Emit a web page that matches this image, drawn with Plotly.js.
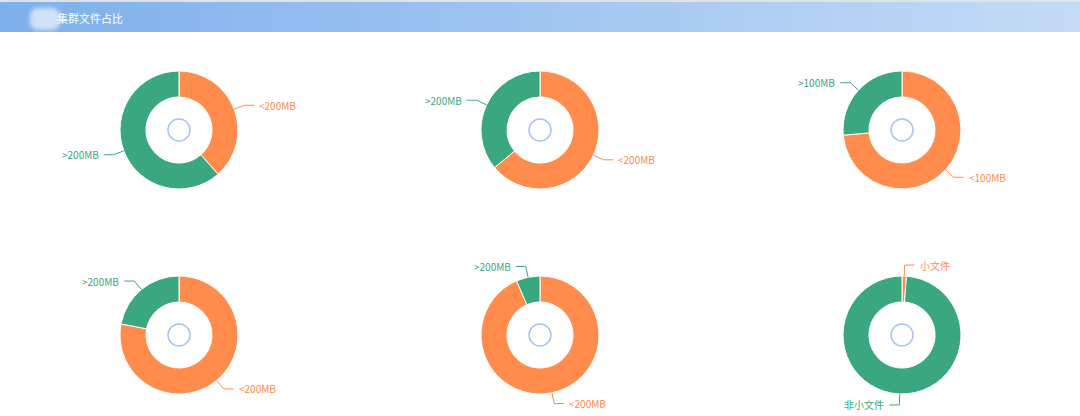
<!DOCTYPE html>
<html>
<head>
<meta charset="utf-8">
<script src="https://cdn.plot.ly/plotly-3.0.1.min.js"></script>
<style>
  body { margin: 0; background: #fff; }
  #wrap { position: relative; width: 1080px; height: 416px; overflow: hidden; }
  #head {
    position: absolute; left: 0; top: 0; width: 1080px; height: 30px;
    border-top: 2px solid #dfe3e8;
    background: linear-gradient(to right, #7db0ec 0%, #9cc3f1 45%, #c4dbf6 100%);
    z-index: 2;
    font-family: "Noto Sans CJK SC", sans-serif; font-size: 11px; color: #fff;
  }
  #head .ico { position: absolute; left: 30px; top: 6px; width: 30px; height: 22px;
    background: rgba(235,242,252,0.75); border-radius: 8px; filter: blur(2px); }
  #head .txt { position: absolute; left: 57px; top: 8px; }
  #chart { position: absolute; left: 0; top: 0; }
</style>
</head>
<body>
<div id="wrap">
  <div id="head"><div class="ico"></div><div class="txt">集群文件占比</div></div>
  <div id="chart"></div>
</div>
<script>
  var W = 1080, H = 416;

  // slice labels (orange first, then green) and values in percent
  var labels1 = ['<200MB', '>200MB'];
  var values1 = [38.5, 61.5];
  var labels2 = ['<200MB', '>200MB'];
  var values2 = [64, 36];
  var labels3 = ['<100MB', '>100MB'];
  var values3 = [73.6, 26.4];
  var labels4 = ['<200MB', '>200MB'];
  var values4 = [78, 22];
  var labels5 = ['<200MB', '>200MB'];
  var values5 = [93.5, 6.5];
  var labels6 = ['小文件', '非小文件'];
  var values6 = [1.2, 98.8];

  var colors = ['#ff8b4d', '#3aa77e'];
  var R = 59, HOLE = 0.56;
  var centers = [[179, 130], [540, 130], [902, 130], [179, 335], [540, 335], [902, 335]];
  var sets = [[labels1, values1], [labels2, values2], [labels3, values3],
              [labels4, values4], [labels5, values5], [labels6, values6]];

  function px(x) { return x / W; }
  function py(y) { return 1 - y / H; }

  var data = [], shapes = [], annotations = [];

  sets.forEach(function (s, i) {
    var cx = centers[i][0], cy = centers[i][1];
    data.push({
      type: 'pie',
      labels: s[0],
      values: s[1],
      sort: false,
      direction: 'clockwise',
      rotation: 0,
      hole: HOLE,
      textinfo: 'none',
      hoverinfo: 'label+percent',
      marker: { colors: colors, line: { color: '#ffffff', width: 1 } },
      domain: { x: [px(cx - R), px(cx + R)], y: [py(cy + R), py(cy - R)] },
      showlegend: false
    });

    // small ring in the middle
    shapes.push({
      type: 'circle', xref: 'paper', yref: 'paper',
      x0: px(cx - 11), x1: px(cx + 11), y0: py(cy + 11), y1: py(cy - 11),
      line: { color: '#a8c3f0', width: 1.5 }, fillcolor: 'rgba(0,0,0,0)'
    });

    // label lines computed from slice mid-angles
    var total = s[1].reduce(function (a, b) { return a + b; }, 0);
    var acc = 0;
    s[1].forEach(function (v, k) {
      var mid = (acc + v / 2) / total * 2 * Math.PI;
      acc += v;
      var sx = Math.sin(mid), sy = -Math.cos(mid);
      var ax = cx + R * sx, ay = cy + R * sy;
      var bx = cx + (R + 11) * sx, by = cy + (R + 11) * sy;
      var dir = sx >= 0 ? 1 : -1;
      var ex = bx + dir * 10;
      shapes.push({
        type: 'path', xref: 'paper', yref: 'paper',
        path: 'M ' + px(ax) + ',' + py(ay) + ' L ' + px(bx) + ',' + py(by) + ' L ' + px(ex) + ',' + py(by),
        line: { color: colors[k], width: 1 }
      });
      annotations.push({
        xref: 'paper', yref: 'paper', x: px(ex + dir * 3), y: py(by),
        xanchor: dir > 0 ? 'left' : 'right', yanchor: 'middle',
        text: s[0][k], showarrow: false,
        font: { family: 'Noto Sans CJK SC, sans-serif', size: 10, color: colors[k] }
      });
    });
  });

  var layout = {
    width: W, height: H,
    margin: { l: 0, r: 0, t: 0, b: 0 },
    paper_bgcolor: '#ffffff',
    shapes: shapes,
    annotations: annotations
  };

  Plotly.newPlot('chart', data, layout, { displayModeBar: false, staticPlot: true });
</script>
</body>
</html>
